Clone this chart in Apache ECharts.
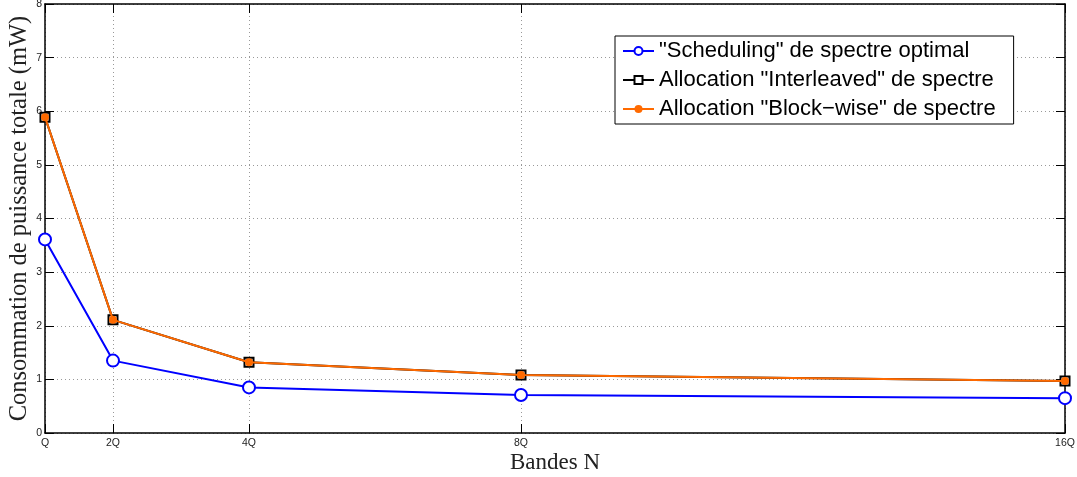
<!DOCTYPE html>
<html>
<head>
<meta charset="utf-8">
<script src="https://cdn.jsdelivr.net/npm/echarts@6/dist/echarts.min.js"></script>
<style>html,body{margin:0;padding:0;background:#fff;}#c{width:1077px;height:477px;}</style>
</head>
<body>
<div id="c"></div>
<script>
const xValues = [1, 2, 4, 8, 16];
const xTickLabels = ['Q', '2Q', '4Q', '8Q', '16Q'];
const scheduling = [3.61, 1.35, 0.85, 0.71, 0.65];
const interleaved = [5.89, 2.11, 1.32, 1.08, 0.97];
const blockwise = [5.89, 2.11, 1.32, 1.08, 0.97];
const seriesNames = ['"Scheduling" de spectre optimal', 'Allocation "Interleaved" de spectre', 'Allocation "Block\u2212wise" de spectre'];

const chart = echarts.init(document.getElementById('c'));
const pair = arr => xValues.map((x, i) => [x, arr[i]]);
const tickCommon = {inside: true, length: 9, lineStyle: {color: '#000', width: 1}};
const splitCommon = {show: true, lineStyle: {color: '#999', width: 1, type: [1, 3]}};
const axisLineStyle = {show: true, onZero: false, lineStyle: {color: '#000', width: 1.5}};
chart.setOption({
  animation: false,
  backgroundColor: '#fff',
  grid: {left: 45, right: 12, top: 4, bottom: 44, outerBoundsMode: 'none', containLabel: false},
  legend: {
    left: 615, top: 36,
    orient: 'vertical',
    backgroundColor: '#fff',
    borderColor: '#000', borderWidth: 1, borderRadius: 0,
    padding: [4, 18, 4, 7],
    itemGap: 7,
    itemWidth: 31, itemHeight: 10,
    textStyle: {fontFamily: 'Liberation Sans', fontSize: 22, lineHeight: 22, color: '#000'},
    data: seriesNames
  },
  xAxis: [{
    type: 'value', min: 1, max: 16,
    name: 'Bandes N', nameLocation: 'middle', nameGap: 18, nameMoveOverlap: false,
    nameTextStyle: {fontFamily: 'Liberation Serif', fontSize: 23, color: '#222'},
    axisLine: axisLineStyle,
    axisTick: Object.assign({customValues: xValues}, tickCommon),
    axisLabel: {customValues: xValues, formatter: v => xTickLabels[xValues.indexOf(v)], fontFamily: 'Liberation Sans', fontSize: 10.5, color: '#222', margin: 5},
    splitLine: splitCommon
  }, {
    type: 'value', min: 1, max: 16, position: 'top',
    axisLine: axisLineStyle,
    axisTick: Object.assign({customValues: xValues}, tickCommon),
    axisLabel: {show: false}, splitLine: {show: false}
  }],
  yAxis: [{
    type: 'value', min: 0, max: 8, interval: 1,
    name: 'Consommation de puissance totale (mW)', nameLocation: 'middle', nameGap: 13, nameMoveOverlap: false,
    nameTextStyle: {fontFamily: 'Liberation Serif', fontSize: 24.5, color: '#222'},
    axisLine: axisLineStyle,
    axisTick: tickCommon,
    axisLabel: {fontFamily: 'Liberation Sans', fontSize: 10.5, color: '#222', margin: 3},
    splitLine: splitCommon
  }, {
    type: 'value', min: 0, max: 8, interval: 1, position: 'right',
    axisLine: axisLineStyle,
    axisTick: tickCommon,
    axisLabel: {show: false}, splitLine: {show: false}
  }],
  series: [{
    name: seriesNames[0], type: 'line', data: pair(scheduling),
    symbol: 'emptyCircle', symbolSize: 12,
    lineStyle: {color: '#0000ff', width: 2},
    itemStyle: {color: '#0000ff', borderColor: '#0000ff', borderWidth: 2},
    z: 3
  }, {
    name: seriesNames[1], type: 'line', data: pair(interleaved),
    symbol: 'emptyRect', symbolSize: 9,
    lineStyle: {color: '#000', width: 2},
    itemStyle: {color: '#000', borderColor: '#000', borderWidth: 2},
    z: 4
  }, {
    name: seriesNames[2], type: 'line', data: pair(blockwise),
    symbol: 'circle', symbolSize: 8,
    lineStyle: {color: '#ff6a00', width: 2},
    itemStyle: {color: '#ff6a00'},
    z: 5
  }]
});
</script>
</body>
</html>
